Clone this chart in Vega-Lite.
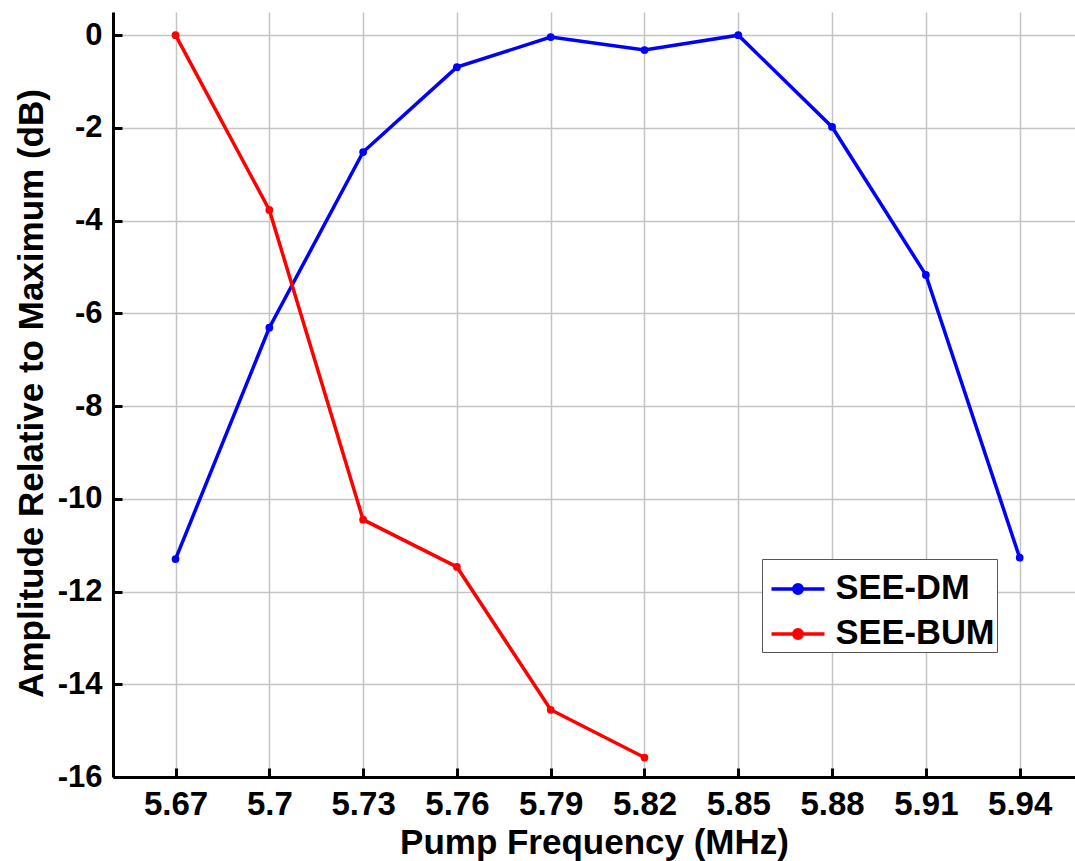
{
  "$schema": "https://vega.github.io/schema/vega-lite/v6.json",
  "width": 962,
  "height": 765,
  "autosize": {"type": "none"},
  "padding": {"left": 113, "top": 12, "right": 0, "bottom": 84},
  "background": "white",
  "config": {
    "view": {"stroke": null},
    "font": "Liberation Sans",
    "axis": {
      "domainColor": "black",
      "domainWidth": 3,
      "tickColor": "black",
      "tickWidth": 3,
      "tickSize": -9,
      "grid": true,
      "gridColor": "#c4c4c4",
      "gridWidth": 1.5,
      "labelColor": "black",
      "labelFontWeight": "bold",
      "titleColor": "black",
      "titleFontWeight": "bold",
      "titleFontSize": 35,
      "labelExpr": "toString(datum.value)"
    }
  },
  "data": {
    "values": [
      {"freq": 5.67, "amp": -11.3, "series": "SEE-DM"},
      {"freq": 5.70, "amp": -6.31, "series": "SEE-DM"},
      {"freq": 5.73, "amp": -2.52, "series": "SEE-DM"},
      {"freq": 5.76, "amp": -0.69, "series": "SEE-DM"},
      {"freq": 5.79, "amp": -0.04, "series": "SEE-DM"},
      {"freq": 5.82, "amp": -0.32, "series": "SEE-DM"},
      {"freq": 5.85, "amp": 0.0, "series": "SEE-DM"},
      {"freq": 5.88, "amp": -1.98, "series": "SEE-DM"},
      {"freq": 5.91, "amp": -5.17, "series": "SEE-DM"},
      {"freq": 5.94, "amp": -11.27, "series": "SEE-DM"},
      {"freq": 5.67, "amp": 0.0, "series": "SEE-BUM"},
      {"freq": 5.70, "amp": -3.77, "series": "SEE-BUM"},
      {"freq": 5.73, "amp": -10.45, "series": "SEE-BUM"},
      {"freq": 5.76, "amp": -11.47, "series": "SEE-BUM"},
      {"freq": 5.79, "amp": -14.55, "series": "SEE-BUM"},
      {"freq": 5.82, "amp": -15.58, "series": "SEE-BUM"}
    ]
  },
  "encoding": {
    "x": {
      "field": "freq",
      "type": "quantitative",
      "scale": {"domain": [5.65, 5.9577], "nice": false, "zero": false},
      "axis": {
        "title": "Pump Frequency (MHz)",
        "values": [5.67, 5.7, 5.73, 5.76, 5.79, 5.82, 5.85, 5.88, 5.91, 5.94],
        "labelFontSize": 33,
        "labelPadding": 20,
        "titleY": 76,
        "titleBaseline": "alphabetic"
      }
    },
    "y": {
      "field": "amp",
      "type": "quantitative",
      "scale": {"domain": [-16, 0.5], "nice": false, "zero": false},
      "axis": {
        "title": "Amplitude Relative to Maximum (dB)",
        "values": [-16, -14, -12, -10, -8, -6, -4, -2, 0],
        "labelFontSize": 31,
        "labelPadding": 20,
        "titleX": -71,
        "titleY": 381,
        "titleBaseline": "alphabetic"
      }
    },
    "color": {
      "field": "series",
      "type": "nominal",
      "scale": {"domain": ["SEE-DM", "SEE-BUM"], "range": ["#0000ff", "#ff0000"]},
      "legend": {
        "title": null,
        "orient": "none",
        "legendX": 649,
        "legendY": 547,
        "padding": 1.5,
        "strokeColor": "#555555",
        "fillColor": "white",
        "labelFontSize": 34.5,
        "labelFontWeight": "bold",
        "labelColor": "black",
        "symbolOffset": 6,
        "labelOffset": 9,
        "rowPadding": -1,
        "symbolType": "M-1,0L1,0M0.16,0A0.16,0.16,0,1,1,-0.16,0A0.16,0.16,0,1,1,0.16,0Z",
        "symbolSize": 2809,
        "symbolStrokeWidth": 3.5,
        "encode": {
          "symbols": {"update": {"fill": {"scale": "color", "field": "value"}, "fillOpacity": {"value": 1}}}
        }
      }
    }
  },
  "layer": [
    {"mark": {"type": "line", "strokeWidth": 3.5}},
    {"mark": {"type": "circle", "size": 60, "opacity": 1}}
  ]
}
